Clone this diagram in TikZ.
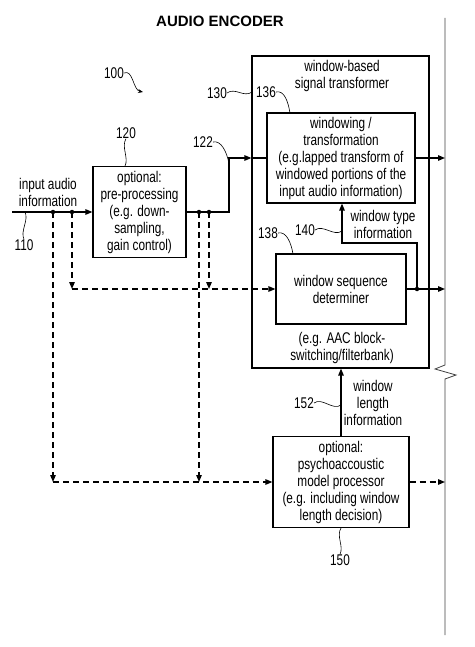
\documentclass[tikz,border=0pt]{standalone}
\usepackage{fontspec}
\setmainfont[FakeStretch=0.76]{Liberation Sans}
\newfontfamily\titlefont{Liberation Sans}
\usetikzlibrary{arrows.meta}
\begin{document}
\begin{tikzpicture}[x=1pt,y=-1pt,
  font=\fontsize{15.5}{17}\selectfont,
  blk/.style={draw, line width=1.2pt, inner sep=0pt, align=center},
  txt/.style={inner sep=0pt, align=center},
  conn/.style={line width=1.3pt},
  arr/.style={conn, -{Triangle[length=7pt,width=5.5pt]}},
  darr/.style={arr, dash pattern=on 6pt off 4pt},
  sq/.style={line width=0.6pt},
  dot/.style={circle, fill, inner sep=0pt, minimum size=4.5pt},
  rline/.style={line width=0.8pt, black!75},
]
\useasboundingbox (0,0) rectangle (474,647);

% title
\node[txt, font=\titlefont\bfseries\fontsize{15}{18}\selectfont] (title) at (220,21) {AUDIO ENCODER};

% right boundary line with break mark
\coordinate (rt) at (445,18);
\coordinate (z1) at (445,365);
\coordinate (z2) at (435,369);
\coordinate (z3) at (456,375);
\coordinate (z4) at (445,379);
\coordinate (rb) at (445,635);
\draw[rline] (rt) -- (z1) -- (z2) -- (z3) -- (z4) -- (rb);

% blocks
\node[blk, minimum width=177pt, minimum height=312pt] (st) at (340.5,212) {};
\node[txt] (sttxt) at (342,76) {window-based\\signal transformer};
\node[txt] (sttxt2) at (342,348) {(e.g. AAC block-\\switching/filterbank)};
\node[blk, minimum width=148pt, minimum height=90pt] (wt) at (341,158)
  {windowing /\\transformation\\(e.g.lapped transform of\\windowed portions of the\\input audio information)};
\node[blk, minimum width=130pt, minimum height=70pt] (wsd) at (341,289)
  {window sequence\\determiner};
\node[blk, minimum width=93pt, minimum height=91pt] (pre) at (139.5,212)
  {optional:\\pre-processing\\(e.g. down-\\sampling,\\gain control)};
\node[blk, minimum width=136pt, minimum height=91pt] (psy) at (341,482)
  {optional:\\psychoaccoustic\\model processor\\(e.g. including window\\length decision)};

% text labels
\node[txt] (inlbl) at (48,192) {input audio\\information};
\node[txt] (wtlbl) at (383,224) {window type\\information};
\node[txt] (wllbl) at (373,403) {window\\length\\information};

% reference numerals
\node[txt] (l100) at (114,73) {100};
\node[txt] (l130) at (217,93) {130};
\node[txt] (l136) at (266,92) {136};
\node[txt] (l120) at (126,133) {120};
\node[txt] (l122) at (203,142) {122};
\node[txt] (l110) at (24,245) {110};
\node[txt] (l140) at (305,230) {140};
\node[txt] (l138) at (268,233) {138};
\node[txt] (l152) at (304,403) {152};
\node[txt] (l150) at (340,560) {150};

% junction dots
\node[dot] (d1) at (53,212) {};
\node[dot] (d2) at (72,212) {};
\node[dot] (d3) at (199,212) {};
\node[dot] (d4) at (209,212) {};
\node[dot] (g1) at (417,289) {};

% coordinates
\coordinate (in) at (12,212);
\coordinate (c1) at (229,212);
\coordinate (c2) at (229,158);
\coordinate (stin) at (st.west |- c2);
\coordinate (e1) at (72,289);
\coordinate (f1) at (53,482);
\coordinate (g2) at (417,243);
\coordinate (g3) at (342,243);

% solid connectors
\draw[arr] (in) -- (pre.west);
\draw[arr] (pre.east) -- (c1) -- (c2) -- (stin);
\draw[conn] (stin) -- (wt.west);
\draw[arr] (wt.east) -- (wt.east -| rt);
\draw[arr] (wsd.east) -- (wsd.east -| rt);
\draw[arr] (g1.center) -- (g2) -- (g3) -- (g3 |- wt.south);
\draw[arr] (psy.north) -- (psy.north |- st.south);

% dashed connectors
\draw[darr] (d2.center) -- (e1);
\draw[darr] (e1) -- (wsd.west);
\draw[darr] (d4.center) -- (d4 |- e1);
\draw[darr] (d1.center) -- (f1);
\draw[darr] (f1) -- (psy.west);
\draw[darr] (d3.center) -- (d3 |- f1);
\draw[darr] (psy.east) -- (psy.east -| rt);

% squiggly leader lines
\coordinate (s100) at (143,92);
\draw[sq, -{Stealth[length=5pt,width=4pt]}] (l100.east) .. controls +(9,-4) and +(-10,-2) .. (s100);
\coordinate (s130) at (252,92);
\draw[sq] (l130.east) .. controls +(8,-6) and +(-8,6) .. (s130);
\coordinate (s136) at (290,113);
\draw[sq] (l136.east) .. controls +(8,-2) and +(-2,-12) .. (s136);
\coordinate (s120) at (125,166);
\draw[sq] (l120.south) .. controls +(-5,8) and +(4,-8) .. (s120);
\coordinate (s122) at (229,164);
\draw[sq] (l122.east) .. controls +(8,-2) and +(-2,-12) .. (s122);
\coordinate (s110) at (25,212);
\draw[sq] (l110.north) .. controls +(-4,-8) and +(4,8) .. (s110);
\coordinate (s140) at (342,231);
\draw[sq] (l140.east) .. controls +(8,-6) and +(-8,6) .. (s140);
\coordinate (s138) at (293,254);
\draw[sq] (l138.east) .. controls +(8,-2) and +(-2,-12) .. (s138);
\coordinate (s152) at (341,405);
\draw[sq] (l152.east) .. controls +(8,-6) and +(-8,6) .. (s152);
\coordinate (s150) at (341,528);
\draw[sq] (s150) .. controls +(-5,8) and +(4,-8) .. (l150.north);
\end{tikzpicture}
\end{document}
